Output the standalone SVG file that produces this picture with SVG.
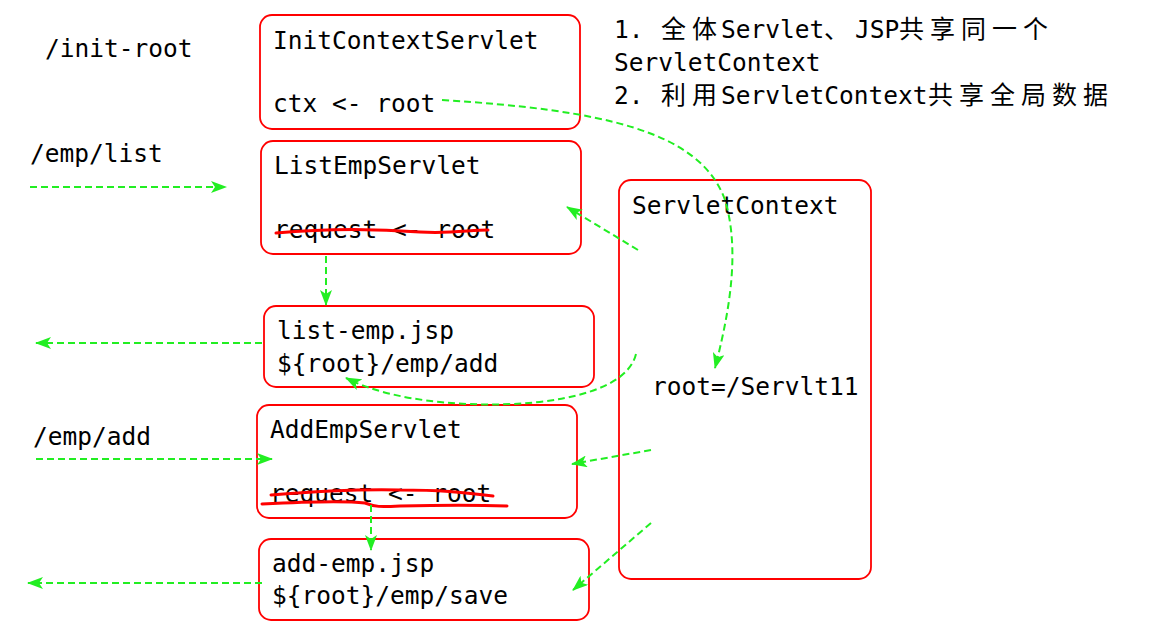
<svg xmlns="http://www.w3.org/2000/svg" width="1165" height="639" viewBox="0 0 1165 639">
<style>
.box{fill:#fff;stroke:#ff0000;stroke-width:1.8}
.t{font-family:"DejaVu Sans Mono","Liberation Mono","Noto Sans CJK SC",monospace;font-size:24.5px;fill:#000}
.cjk{font-family:"Noto Sans CJK SC",sans-serif;font-size:25px;letter-spacing:6px}
.c{fill:none;stroke:#22ee22;stroke-width:2;stroke-dasharray:7 4}
.strike{fill:none;stroke:#ff0000;stroke-width:3;stroke-linecap:round}
</style>
<defs>
<marker id="ah" viewBox="0 0 16 12" refX="15" refY="6" markerWidth="16" markerHeight="12" orient="auto" markerUnits="userSpaceOnUse">
<path d="M0,0 L16,6 L0,12 L4,6 z" fill="#22ee22"/>
</marker>
</defs>
<rect width="1165" height="639" fill="#fff"/>
<text class="t" x="45" y="57">/init-root</text>
<text class="t" x="30" y="162">/emp/list</text>
<text class="t" x="33" y="445">/emp/add</text>
<g id="note">
<text class="t" y="38"><tspan x="614">1.</tspan><tspan class="cjk" x="661">全体</tspan><tspan x="721">Servlet</tspan><tspan class="cjk" x="824">、</tspan><tspan x="855">JSP</tspan><tspan class="cjk" x="899">共享同一个</tspan></text>
<text class="t" x="614" y="71">ServletContext</text>
<text class="t" y="104"><tspan x="614">2.</tspan><tspan class="cjk" x="661">利用</tspan><tspan x="721">ServletContext</tspan><tspan class="cjk" x="928">共享全局数据</tspan></text>
</g>
<g id="init">
<rect class="box" x="260" y="15" width="320" height="114" rx="12"/>
<text class="t" x="273" y="49">InitContextServlet</text>
<text class="t" x="273" y="112">ctx &lt;- root</text>
</g>
<g id="listemp">
<rect class="box" x="261" y="141" width="320" height="113" rx="12"/>
<text class="t" x="274" y="174">ListEmpServlet</text>
<text class="t" x="274" y="238">request &lt;- root</text>
<path class="strike" d="M276,233 C330,228 380,229 420,232 C450,234 470,230 488,230"/>
</g>
<g id="listjsp">
<rect class="box" x="264" y="306" width="330" height="81" rx="12"/>
<text class="t" x="277" y="339">list-emp.jsp</text>
<text class="t" x="277" y="372">${root}/emp/add</text>
</g>
<g id="addemp">
<rect class="box" x="257" y="405" width="320" height="113" rx="12"/>
<text class="t" x="270" y="438">AddEmpServlet</text>
<text class="t" x="270" y="502">request &lt;- root</text>
<path class="strike" d="M271,495 C320,491 360,489 400,490 C440,490 460,492 493,496"/>
<path class="strike" d="M262,504 C300,502 340,500 365,503 C375,507 380,507 400,506 C440,505 480,505 507,506"/>
</g>
<g id="addjsp">
<rect class="box" x="259" y="539" width="330" height="81" rx="12"/>
<text class="t" x="272" y="572">add-emp.jsp</text>
<text class="t" x="272" y="604">${root}/emp/save</text>
</g>
<g id="ctx">
<rect class="box" x="619" y="180" width="252" height="399" rx="12"/>
<text class="t" x="632" y="214">ServletContext</text>
<text class="t" x="652" y="395">root=/Servlt11</text>
</g>
<g id="connectors">
<path class="c" d="M30,187 L226,187" marker-end="url(#ah)"/>
<path class="c" d="M36,459 L272,459" marker-end="url(#ah)"/>
<path class="c" d="M262,343 L36,343" marker-end="url(#ah)"/>
<path class="c" d="M262,583 L28,583" marker-end="url(#ah)"/>
<path class="c" d="M326,256 L326,305" marker-end="url(#ah)"/>
<path class="c" d="M371,505 L371,550" marker-end="url(#ah)"/>
<path class="c" d="M442,100 C600,110 700,130 725,200 C740,250 730,310 715,368" marker-end="url(#ah)"/>
<path class="c" d="M638,250 L567,207" marker-end="url(#ah)"/>
<path class="c" d="M636,354 C625,400 520,410 440,402 C400,398 370,390 346,378" marker-end="url(#ah)"/>
<path class="c" d="M651,450 L572,464" marker-end="url(#ah)"/>
<path class="c" d="M651,523 L573,590" marker-end="url(#ah)"/>
</g>
</svg>
